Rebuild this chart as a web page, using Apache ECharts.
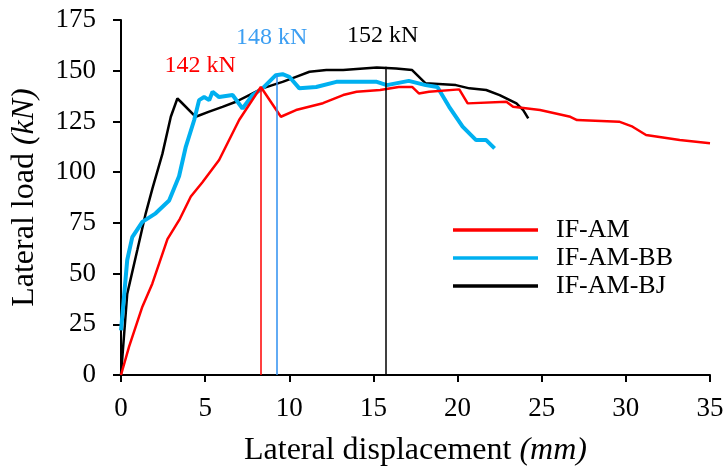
<!DOCTYPE html>
<html>
<head>
<meta charset="utf-8">
<script src="https://cdn.jsdelivr.net/npm/echarts@6/dist/echarts.min.js"></script>
<style>
  html, body { margin: 0; padding: 0; background: #fff; }
</style>
</head>
<body>
<div id="myChart" style="width: 724px; height: 467px"></div>
<script>
// lateral displacement (mm) / lateral load (kN)
var amX = [0, 0.48, 1.27, 1.86, 2.76, 3.5, 4.15, 4.84, 5.83, 7.02, 8.31, 9.5, 10.4, 12, 13.2, 14, 15.4, 16.5, 17.3, 17.7, 18.3, 20.1, 20.6, 22.9, 23.3, 24.9, 26.7, 27.1, 29.6, 30.4, 31.2, 33.2, 35]
var amY = [0, 14, 33.7, 45, 67, 77, 88, 95, 106, 125.7, 142, 127.3, 130.6, 134, 138, 139.6, 140.5, 142, 142, 138.8, 139.6, 140.8, 133.9, 134.7, 132.2, 130.6, 127.3, 125.7, 124.9, 122.4, 118.3, 115.8, 114.2]

var bbX = [0, 0.18, 0.37, 0.67, 1.27, 2.06, 2.86, 3.45, 3.85, 4.35, 4.64, 4.94, 5.24, 5.44, 5.83, 6.63, 7.22, 7.82, 8.41, 9.2, 9.6, 10, 10.6, 11.6, 12.8, 13.6, 15.2, 15.8, 17.1, 18.1, 18.8, 19.5, 20.3, 21.1, 21.7, 22.2]
var bbY = [22, 38.6, 56.7, 68, 75.5, 79.7, 86, 98, 112.5, 125.7, 135.5, 137, 135.5, 139.6, 137, 138, 131.4, 138, 141.3, 147.8, 148.3, 147, 141.3, 142, 144.5, 144.5, 144.5, 142.9, 145, 142.9, 142, 132.2, 122.4, 115.8, 115.8, 111.7]

var bjX = [0, 0.37, 0.97, 1.47, 1.87, 2.46, 2.96, 3.35, 3.55, 4.44, 5.24, 6.03, 6.83, 7.62, 8.41, 9, 9.6, 10.4, 11.2, 12.2, 13.2, 14.4, 15.2, 16.35, 17.3, 18.1, 19.9, 20.7, 21.7, 22.5, 23.5, 23.9, 24.2]
var bjY = [0, 40, 61.6, 79.7, 92, 109, 127.3, 136.3, 134.7, 127.3, 129.8, 132.2, 134.7, 138, 141.3, 142.9, 144.5, 147, 149.5, 150.3, 150.3, 151.1, 151.6, 151.1, 150.3, 143.8, 142.9, 141.3, 140.5, 138, 133.9, 130.6, 126.5]

var seriesNames = ['IF-AM', 'IF-AM-BB', 'IF-AM-BJ']
var colors = ['#ff0000', '#00b0f0', '#000000']
var peakX = [8.31, 9.27, 15.71]
var peakY = [142, 148, 152]
var peakLabels = ['142 kN', '148 kN', '152 kN']
var labelPos = [[4.7, 152.3], [8.95, 166.3], [15.55, 167.3]]

var xTicks = [0, 5, 10, 15, 20, 25, 30, 35]
var yTicks = [0, 25, 50, 75, 100, 125, 150, 175]

function pairs(xs, ys) {
  return xs.map(function (x, i) { return [x, ys[i]] })
}

var curves = [pairs(amX, amY), pairs(bbX, bbY), pairs(bjX, bjY)]
var widths = [2.5, 4, 2.5]
var serif = '"Liberation Serif", "Times New Roman", serif'

var series = curves.map(function (d, i) {
  return {
    name: seriesNames[i],
    type: 'line',
    data: d,
    symbol: 'none',
    z: 3 - i,
    lineStyle: { color: colors[i], width: widths[i] },
    itemStyle: { color: colors[i] },
    markLine: {
      silent: true,
      symbol: 'none',
      lineStyle: { color: i === 1 ? '#2e8ff0' : colors[i], width: 1.5, type: 'solid' },
      label: { show: false },
      data: [[{ coord: [peakX[i], 0] }, { coord: [peakX[i], peakY[i]] }]]
    },
    markPoint: {
      silent: true,
      symbolSize: 0,
      label: {
        show: true,
        formatter: peakLabels[i],
        color: i === 1 ? '#3d9ff2' : colors[i],
        fontFamily: serif,
        fontSize: 24,
        position: 'inside'
      },
      data: [{ coord: labelPos[i] }]
    }
  }
})

var chartDom = document.getElementById('myChart')
var myChart = echarts.init(chartDom)
var option = {
  animation: false,
  backgroundColor: '#fff',
  grid: { left: 121, right: 14, top: 20, bottom: 92, outerBoundsMode: 'none', containLabel: false },
  legend: {
    orient: 'vertical',
    left: 448,
    top: 211,
    icon: 'rect',
    itemWidth: 85,
    itemHeight: 3.5,
    itemGap: 0,
    textStyle: { fontFamily: serif, fontSize: 26, lineHeight: 28, color: '#000', padding: [0, 0, 0, 13] },
    data: seriesNames.map(function (n, i) {
      return { name: n, itemStyle: { color: colors[i] } }
    })
  },
  xAxis: {
    type: 'value',
    min: 0,
    max: 35,
    interval: 5,
    name: 'Lateral displacement {i|(mm)}',
    nameLocation: 'middle',
    nameGap: 60,
    nameTextStyle: {
      fontFamily: serif, fontSize: 32, color: '#000',
      rich: { i: { fontFamily: serif, fontSize: 32, fontStyle: 'italic', color: '#000' } }
    },
    axisLine: { lineStyle: { color: '#000', width: 2 } },
    axisTick: { show: true, length: 7, lineStyle: { color: '#000', width: 2 } },
    axisLabel: {
      fontFamily: serif, fontSize: 27, color: '#000', margin: 20,
      formatter: function (v) { return xTicks.indexOf(v) >= 0 ? String(v) : '' }
    },
    splitLine: { show: false }
  },
  yAxis: {
    type: 'value',
    min: 0,
    max: 175,
    interval: 25,
    name: 'Lateral load {i|(kN)}',
    nameLocation: 'middle',
    nameGap: 80,
    nameTextStyle: {
      fontFamily: serif, fontSize: 32, color: '#000',
      rich: { i: { fontFamily: serif, fontSize: 32, fontStyle: 'italic', color: '#000' } }
    },
    axisLine: { show: true, lineStyle: { color: '#000', width: 2 } },
    axisTick: { show: true, length: 8, lineStyle: { color: '#000', width: 2 } },
    axisLabel: {
      fontFamily: serif, fontSize: 27, color: '#000', margin: 25,
      formatter: function (v) { return yTicks.indexOf(v) >= 0 ? String(v) : '' }
    },
    splitLine: { show: false }
  },
  series: series
}
myChart.setOption(option)
</script>
</body>
</html>
